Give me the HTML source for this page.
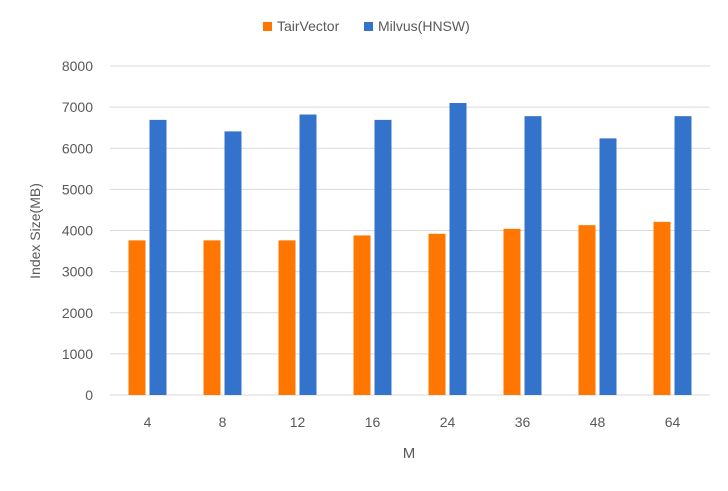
<!DOCTYPE html>
<html><head><meta charset="utf-8"><style>
body{margin:0;background:#fff;font-family:"Liberation Sans",sans-serif;}
svg text{font-family:"Liberation Sans",sans-serif;fill:#595959;}
</style></head><body>
<svg id="chart" width="728" height="486">
<g id="legend">
<rect x="263" y="22" width="9" height="9" fill="#ff7700"/>
<text x="277" y="31" font-size="14">TairVector</text>
<rect x="364" y="22" width="9" height="9" fill="#3473cb"/>
<text x="378" y="31" font-size="14">Milvus(HNSW)</text>
</g>
<text transform="translate(40,231) rotate(-90)" text-anchor="middle" font-size="14">Index Size(MB)</text>
<text x="409" y="458" text-anchor="middle" font-size="15">M</text>
<g id="grid"></g><g id="bars"></g><g id="xl"></g>
</svg>
<script>
const categories=["4","8","12","16","24","36","48","64"];
const tairVector=[3760,3760,3760,3880,3920,4040,4130,4210];
const milvus=[6690,6410,6820,6690,7100,6780,6240,6780];
const yTicks=[0,1000,2000,3000,4000,5000,6000,7000,8000];
const ns="http://www.w3.org/2000/svg";
const x0=110,x1=710,y0=395,y8=66,ymax=8000;
const bw=(x1-x0)/categories.length;
function yS(v){return y0-(v/ymax)*(y0-y8);}
function xC(i){return x0+bw*(i+0.5);}
const grid=document.getElementById('grid'),bars=document.getElementById('bars'),xl=document.getElementById('xl');
yTicks.forEach(t=>{
 const l=document.createElementNS(ns,'line');
 l.setAttribute('x1',x0);l.setAttribute('x2',x1);l.setAttribute('y1',yS(t));l.setAttribute('y2',yS(t));
 l.setAttribute('stroke','#d9d9d9');l.setAttribute('stroke-width','1');
 
 
 grid.appendChild(l);
 const tx=document.createElementNS(ns,'text');
 tx.setAttribute('x',93);tx.setAttribute('y',yS(t)+5);tx.setAttribute('text-anchor','end');tx.setAttribute('font-size','14');
 tx.textContent=t;
 
 
 grid.appendChild(tx);
});
categories.forEach((c,i)=>{
 const cx=xC(i);
 const a=document.createElementNS(ns,'rect');
 a.setAttribute('x',cx-19);a.setAttribute('width',17);a.setAttribute('y',yS(tairVector[i]));a.setAttribute('height',y0-yS(tairVector[i]));
 a.setAttribute('fill','#ff7700');
 
 
 bars.appendChild(a);
 const b=document.createElementNS(ns,'rect');
 b.setAttribute('x',cx+2);b.setAttribute('width',17);b.setAttribute('y',yS(milvus[i]));b.setAttribute('height',y0-yS(milvus[i]));
 b.setAttribute('fill','#3473cb');
 
 
 bars.appendChild(b);
 const t=document.createElementNS(ns,'text');
 t.setAttribute('x',cx);t.setAttribute('y',427);t.setAttribute('text-anchor','middle');t.setAttribute('font-size','14');
 t.textContent=c;
 
 
 xl.appendChild(t);
});
</script>
</body></html>
